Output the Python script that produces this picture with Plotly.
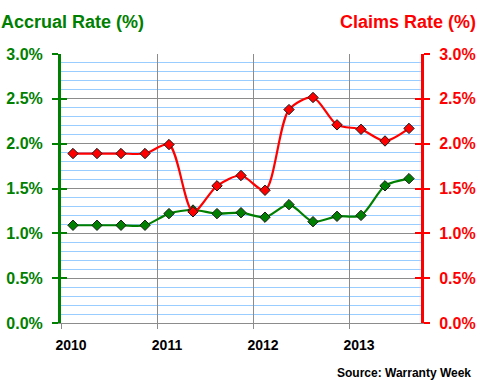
import plotly.graph_objects as go

quarters = ["2010Q1", "2010Q2", "2010Q3", "2010Q4",
            "2011Q1", "2011Q2", "2011Q3", "2011Q4",
            "2012Q1", "2012Q2", "2012Q3", "2012Q4",
            "2013Q1", "2013Q2", "2013Q3"]
accrual_rate = [1.09, 1.09, 1.09, 1.09, 1.22, 1.26, 1.22, 1.23, 1.18,
                1.32, 1.13, 1.19, 1.20, 1.53, 1.61]
claims_rate = [1.89, 1.89, 1.89, 1.89, 1.99, 1.24, 1.53, 1.645, 1.48,
               2.38, 2.515, 2.21, 2.16, 2.03, 2.17]
year_ticks = [2010, 2011, 2012, 2013]
year_labels = ["2010", "2011", "2012", "2013"]
rate_ticks = [0.0, 0.5, 1.0, 1.5, 2.0, 2.5, 3.0]
rate_labels = ["0.0%", "0.5%", "1.0%", "1.5%", "2.0%", "2.5%", "3.0%"]

# mid-quarter positions on a continuous year axis
xpos = [int(q[:4]) + (int(q[-1]) - 1) * 0.25 + 0.125 for q in quarters]

GREEN = "#008000"
RED = "#FF0000"
GRAY = "#8C8C8C"
BLUE = "#99CCFF"
FONT = "Arial, Liberation Sans, sans-serif"

fig = go.Figure()
fig.add_trace(go.Scatter(
    x=xpos, y=accrual_rate, mode="lines+markers", name="Accrual Rate",
    line=dict(color=GREEN, width=2.2, shape="spline", smoothing=0.8),
    marker=dict(symbol="diamond", size=8, color=GREEN,
                line=dict(color="#1a1a1a", width=1)),
    yaxis="y", cliponaxis=False))
fig.add_trace(go.Scatter(
    x=xpos, y=claims_rate, mode="lines+markers", name="Claims Rate",
    line=dict(color=RED, width=2.2, shape="spline", smoothing=0.8),
    marker=dict(symbol="diamond", size=8, color=RED,
                line=dict(color="#1a1a1a", width=1)),
    yaxis="y2", cliponaxis=False))
# empty traces to hold inward tick axes
fig.add_trace(go.Scatter(x=[], y=[], yaxis="y3", showlegend=False))
fig.add_trace(go.Scatter(x=[], y=[], yaxis="y4", showlegend=False))

common_y = dict(range=[0, 3], tickmode="array", tickvals=rate_ticks,
                zeroline=False, fixedrange=True, automargin=False)

fig.update_layout(
    width=480, height=380,
    margin=dict(l=61, r=59, t=54, b=57, autoexpand=False),
    paper_bgcolor="white", plot_bgcolor="white",
    showlegend=False,
    font=dict(family=FONT),
    xaxis=dict(
        range=[2010, 2013.75], tickmode="array", tickvals=year_ticks,
        ticktext=year_labels, fixedrange=True, automargin=False,
        showgrid=True, gridcolor=GRAY, gridwidth=1,
        showline=True, linecolor=GRAY, linewidth=1,
        ticks="outside", ticklen=5, tickcolor=GRAY, tickwidth=1,
        ticklabelshift=10, ticklabelstandoff=4,
        tickfont=dict(family=FONT, size=14, color="black", weight="bold"),
        zeroline=False),
    yaxis=dict(
        **common_y, ticktext=rate_labels,
        showgrid=True, gridcolor=GRAY, gridwidth=1,
        minor=dict(dtick=0.1, showgrid=True, gridcolor=BLUE, gridwidth=1),
        showline=True, linecolor=GREEN, linewidth=3,
        ticks="outside", ticklen=6, tickcolor=GREEN, tickwidth=2,
        ticklabelstandoff=6,
        tickfont=dict(family=FONT, size=16, color=GREEN, weight="bold")),
    yaxis2=dict(
        **common_y, ticktext=rate_labels, overlaying="y", side="right",
        showgrid=False,
        showline=True, linecolor=RED, linewidth=3,
        ticks="outside", ticklen=6, tickcolor=RED, tickwidth=2,
        ticklabelstandoff=6,
        tickfont=dict(family=FONT, size=16, color=RED, weight="bold")),
    yaxis3=dict(
        **common_y, overlaying="y", side="left", showgrid=False,
        showline=False, showticklabels=False,
        ticks="inside", ticklen=6, tickcolor=GREEN, tickwidth=2),
    yaxis4=dict(
        **common_y, overlaying="y", side="right", showgrid=False,
        showline=False, showticklabels=False,
        ticks="inside", ticklen=6, tickcolor=RED, tickwidth=2),
    annotations=[
        dict(text="Accrual Rate (%)", xref="paper", yref="paper",
             x=-62 / 360, y=1 + 32 / 268, xanchor="left", yanchor="middle",
             showarrow=False,
             font=dict(family=FONT, size=18, color=GREEN, weight="bold")),
        dict(text="Claims Rate (%)", xref="paper", yref="paper",
             x=1 + 57 / 360, y=1 + 32 / 268, xanchor="right", yanchor="middle",
             showarrow=False,
             font=dict(family=FONT, size=18, color=RED, weight="bold")),
        dict(text="Source: Warranty Week", xref="paper", yref="paper",
             x=1 + 52 / 360, y=-50 / 268, xanchor="right", yanchor="middle",
             showarrow=False,
             font=dict(family=FONT, size=12, color="black", weight="bold")),
    ],
)

fig.write_html("out.html", config={"displayModeBar": False})

# remove the browser's default page margin so the figure sits at (0, 0)
with open("out.html", "r", encoding="utf-8") as f:
    html = f.read()
html = html.replace("<body>", '<body style="margin:0;padding:0;">', 1)
with open("out.html", "w", encoding="utf-8") as f:
    f.write(html)
